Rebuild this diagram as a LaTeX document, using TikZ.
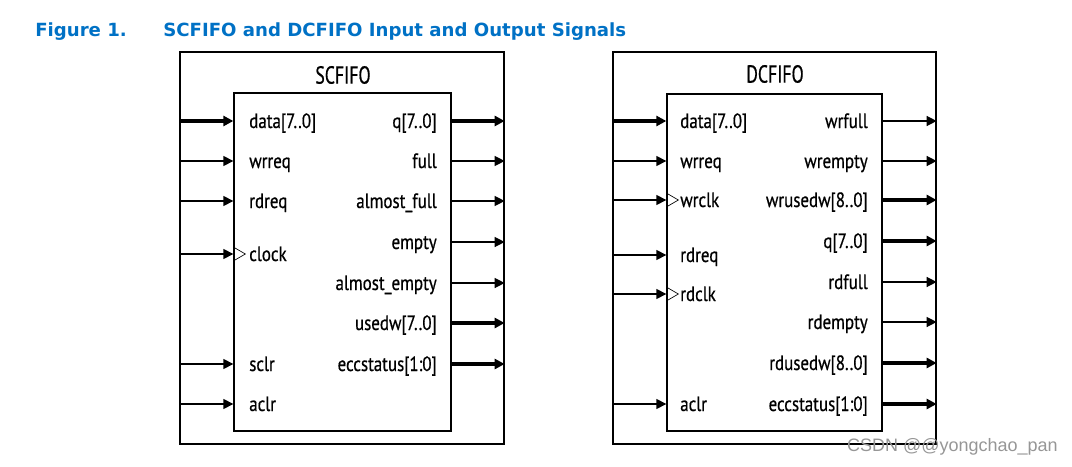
\documentclass[tikz,border=0pt]{standalone}
\usepackage{fontspec}
\usetikzlibrary{arrows.meta}
\newfontfamily\sigfont[FakeStretch=0.82, FakeBold=0.6]{PT Sans}
\newfontfamily\blkfont[FakeStretch=0.72, FakeBold=0.6]{PT Sans}
\newfontfamily\headfont{DejaVu Sans}
\newfontfamily\wmfont{Liberation Sans}
\definecolor{figblue}{RGB}{0,113,197}
\definecolor{wmgray}{RGB}{150,150,150}

\begin{document}
\begin{tikzpicture}[x=0.75pt, y=-0.75pt,
  outerbox/.style={draw, line width=1pt, minimum width=243pt, minimum height=294pt, inner sep=0pt},
  innerbox/.style={draw, line width=1pt, inner sep=0pt},
  blkname/.style={font=\blkfont\fontsize{18.5}{18.5}\selectfont},
  lbl/.style={inner sep=0pt, text height=12pt, text depth=1.5pt, font=\sigfont\fontsize{15.5}{15.5}\selectfont},
  inlbl/.style={lbl, anchor=west},
  outlbl/.style={lbl, anchor=east},
  sig/.style={line width=1pt, -{Triangle[length=7.5pt, width=7.5pt]}},
  bus/.style={line width=2.6pt, -{Triangle[length=7.5pt, width=7.5pt]}},
  clk/.style={line width=0.5pt},
  heading/.style={anchor=base west, inner sep=0pt, text=figblue, font=\headfont\bfseries\fontsize{13.6}{13.6}\selectfont}]
  \useasboundingbox (0,0) rectangle (1072,467);

  % figure caption
  \node[heading] (fignum) at (35,37) {Figure 1.};
  \node[heading] (figtitle) at (163,37) {SCFIFO and DCFIFO Input and Output Signals};

  % SCFIFO
  \node[outerbox] (scouter) at (342,248) {};
  \node[innerbox, minimum width=162.75pt, minimum height=253.5pt] (sc) at (342.5,262) {};
  \node[blkname] (scname) at (343,75) {SCFIFO};

  \node[inlbl] (sc-data) at (249,121) {data[7..0]};
  \node[inlbl] (sc-wrreq) at (249,161) {wrreq};
  \node[inlbl] (sc-rdreq) at (249,201) {rdreq};
  \node[inlbl] (sc-clock) at (249,254) {clock};
  \node[inlbl] (sc-sclr) at (249,364) {sclr};
  \node[inlbl] (sc-aclr) at (249,404) {aclr};

  \node[outlbl] (sc-q) at (437,121) {q[7..0]};
  \node[outlbl] (sc-full) at (437,161) {full};
  \node[outlbl] (sc-afull) at (437,201) {almost\_full};
  \node[outlbl] (sc-empty) at (437,242) {empty};
  \node[outlbl] (sc-aempty) at (437,283) {almost\_empty};
  \node[outlbl] (sc-usedw) at (437,323) {usedw[7..0]};
  \node[outlbl] (sc-ecc) at (437,364) {eccstatus[1:0]};

  \draw[bus] (scouter.west |- sc-data.west) -- (sc.west |- sc-data.west);
  \draw[sig] (scouter.west |- sc-wrreq.west) -- (sc.west |- sc-wrreq.west);
  \draw[sig] (scouter.west |- sc-rdreq.west) -- (sc.west |- sc-rdreq.west);
  \draw[sig] (scouter.west |- sc-clock.west) -- (sc.west |- sc-clock.west);
  \draw[sig] (scouter.west |- sc-sclr.west) -- (sc.west |- sc-sclr.west);
  \draw[sig] (scouter.west |- sc-aclr.west) -- (sc.west |- sc-aclr.west);
  \draw[clk] (sc.west |- sc-clock.west) ++(0,-7) -- ++(12,7) -- ++(-12,7);

  \draw[bus] (sc.east |- sc-q.east) -- (scouter.east |- sc-q.east);
  \draw[sig] (sc.east |- sc-full.east) -- (scouter.east |- sc-full.east);
  \draw[sig] (sc.east |- sc-afull.east) -- (scouter.east |- sc-afull.east);
  \draw[sig] (sc.east |- sc-empty.east) -- (scouter.east |- sc-empty.east);
  \draw[sig] (sc.east |- sc-aempty.east) -- (scouter.east |- sc-aempty.east);
  \draw[bus] (sc.east |- sc-usedw.east) -- (scouter.east |- sc-usedw.east);
  \draw[bus] (sc.east |- sc-ecc.east) -- (scouter.east |- sc-ecc.east);

  % DCFIFO
  \node[outerbox, minimum width=242.25pt] (dcouter) at (774.5,248) {};
  \node[innerbox, minimum width=161.25pt, minimum height=252.75pt] (dc) at (774.5,262.5) {};
  \node[blkname] (dcname) at (775,74) {DCFIFO};

  \node[inlbl] (dc-data) at (680,121) {data[7..0]};
  \node[inlbl] (dc-wrreq) at (680,161) {wrreq};
  \node[inlbl] (dc-wrclk) at (680,200) {wrclk};
  \node[inlbl] (dc-rdreq) at (680,255) {rdreq};
  \node[inlbl] (dc-rdclk) at (680,294) {rdclk};
  \node[inlbl] (dc-aclr) at (680,404) {aclr};

  \node[outlbl] (dc-wrfull) at (868,121) {wrfull};
  \node[outlbl] (dc-wrempty) at (868,161) {wrempty};
  \node[outlbl] (dc-wrusedw) at (868,200) {wrusedw[8..0]};
  \node[outlbl] (dc-q) at (868,241) {q[7..0]};
  \node[outlbl] (dc-rdfull) at (868,282) {rdfull};
  \node[outlbl] (dc-rdempty) at (868,322) {rdempty};
  \node[outlbl] (dc-rdusedw) at (868,363) {rdusedw[8..0]};
  \node[outlbl] (dc-ecc) at (868,404) {eccstatus[1:0]};

  \draw[bus] (dcouter.west |- dc-data.west) -- (dc.west |- dc-data.west);
  \draw[sig] (dcouter.west |- dc-wrreq.west) -- (dc.west |- dc-wrreq.west);
  \draw[sig] (dcouter.west |- dc-wrclk.west) -- (dc.west |- dc-wrclk.west);
  \draw[sig] (dcouter.west |- dc-rdreq.west) -- (dc.west |- dc-rdreq.west);
  \draw[sig] (dcouter.west |- dc-rdclk.west) -- (dc.west |- dc-rdclk.west);
  \draw[sig] (dcouter.west |- dc-aclr.west) -- (dc.west |- dc-aclr.west);
  \draw[clk] (dc.west |- dc-wrclk.west) ++(0,-7) -- ++(12,7) -- ++(-12,7);
  \draw[clk] (dc.west |- dc-rdclk.west) ++(0,-7) -- ++(12,7) -- ++(-12,7);

  \draw[sig] (dc.east |- dc-wrfull.east) -- (dcouter.east |- dc-wrfull.east);
  \draw[sig] (dc.east |- dc-wrempty.east) -- (dcouter.east |- dc-wrempty.east);
  \draw[bus] (dc.east |- dc-wrusedw.east) -- (dcouter.east |- dc-wrusedw.east);
  \draw[bus] (dc.east |- dc-q.east) -- (dcouter.east |- dc-q.east);
  \draw[sig] (dc.east |- dc-rdfull.east) -- (dcouter.east |- dc-rdfull.east);
  \draw[sig] (dc.east |- dc-rdempty.east) -- (dcouter.east |- dc-rdempty.east);
  \draw[bus] (dc.east |- dc-rdusedw.east) -- (dcouter.east |- dc-rdusedw.east);
  \draw[bus] (dc.east |- dc-ecc.east) -- (dcouter.east |- dc-ecc.east);

  % watermark
  \node[anchor=east, inner sep=0pt, text=wmgray, font=\wmfont\fontsize{13.5}{13.5}\selectfont] (wm) at (1058,447) {CSDN @@yongchao\_pan};
\end{tikzpicture}
\end{document}
